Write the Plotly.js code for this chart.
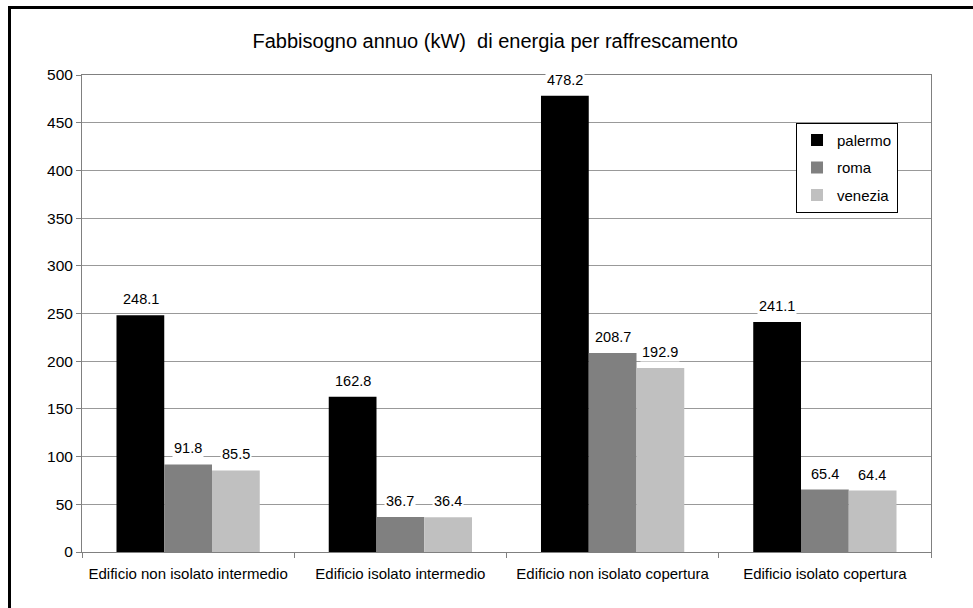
<!DOCTYPE html>
<html>
<head>
<meta charset="utf-8">
<script src="https://cdn.plot.ly/plotly-3.0.1.min.js"></script>
<style>
html,body{margin:0;padding:0;background:#fff;overflow:hidden;width:973px;height:608px;}
#wrap{position:absolute;left:8px;top:6px;width:1000px;height:700px;border:3px solid #000;}
#chart{position:absolute;left:0;top:0;width:973px;height:608px;}
</style>
</head>
<body>
<div id="chart"></div>
<div id="wrap"></div>
<script>
var categories = ["Edificio non isolato intermedio", "Edificio isolato intermedio", "Edificio non isolato copertura", "Edificio isolato copertura"];
var palermo = [248.1, 162.8, 478.2, 241.1];
var roma = [91.8, 36.7, 208.7, 65.4];
var venezia = [85.5, 36.4, 192.9, 64.4];
var seriesNames = ["palermo", "roma", "venezia"];
var seriesColors = ["#000000", "#808080", "#C0C0C0"];

var FONT = "'Liberation Sans', Arial, sans-serif";
var allSeries = [palermo, roma, venezia];
var traces = allSeries.map(function(vals, i){
  return {type:'bar', name:seriesNames[i], legendgroup:'g'+i, x:categories, y:vals,
    marker:{color:seriesColors[i], line:{width:0}}, hoverinfo:'none'};
});

var barPx = 47.6;
var annotations = [];
allSeries.forEach(function(vals, i){
  vals.forEach(function(v, j){
    annotations.push({x:categories[j], y:v, xref:'x', yref:'y', text:v.toFixed(1),
      showarrow:false, yanchor:'bottom', yshift:6, xshift:(i-1)*barPx,
      bgcolor:'#ffffff', borderpad:1, font:{family:FONT, size:14.5, color:'#000'}});
  });
});

var layout = {
  width:973, height:608,
  margin:{l:82, r:42, t:75, b:56},
  paper_bgcolor:'rgba(0,0,0,0)', plot_bgcolor:'#ffffff',
  font:{family:FONT, size:15, color:'#000'},
  title:{text:'Fabbisogno annuo (kW)  di energia per raffrescamento', x:0.509, xref:'container', xanchor:'center',
    y:0.932, yref:'container', yanchor:'middle',
    font:{family:FONT, size:20, color:'#000'}},
  barmode:'group', bargap:0.325, bargroupgap:0,
  showlegend:true,
  legend:{x:0.841, y:0.90, xanchor:'left', yanchor:'top', bordercolor:'#000', borderwidth:1,
    bgcolor:'#fff', font:{family:FONT, size:15}, traceorder:'grouped', tracegroupgap:5, itemwidth:30},
  xaxis:{type:'category', showline:true, linecolor:'#808080', linewidth:1, mirror:true,
    ticks:'outside', ticklen:5, tickcolor:'#808080', tickson:'boundaries', showgrid:false,
    ticklabelstandoff:8, tickfont:{family:FONT, size:15}, fixedrange:true},
  yaxis:{range:[0,500], dtick:50, showline:true, linecolor:'#808080', linewidth:1, mirror:true,
    ticks:'outside', ticklen:5, tickcolor:'#808080', showgrid:true, gridcolor:'#999999', gridwidth:1,
    zeroline:false, tickfont:{family:FONT, size:15.5}, fixedrange:true},
  annotations:annotations
};
Plotly.newPlot('chart', traces, layout, {displayModeBar:false, staticPlot:true});
</script>
</body>
</html>
